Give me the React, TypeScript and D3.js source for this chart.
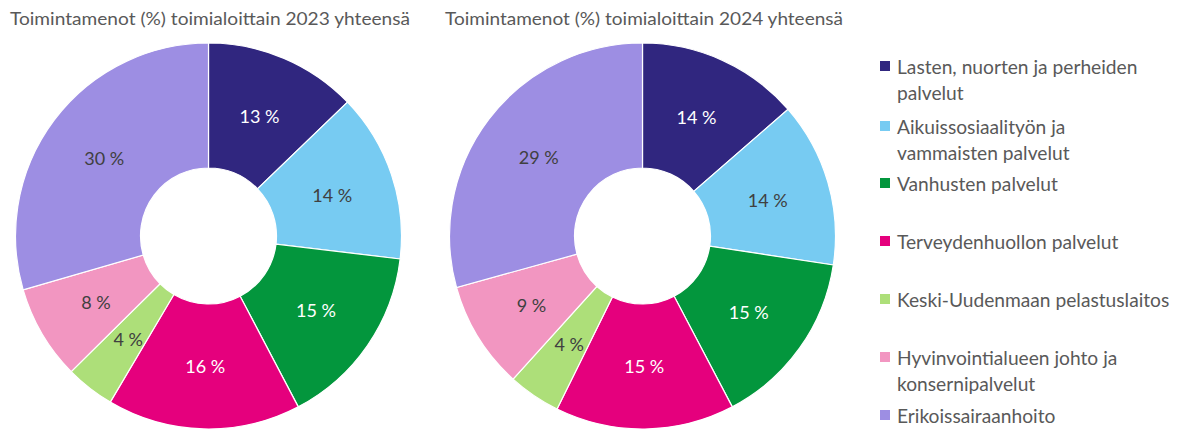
import React from "react";
import * as d3 from "d3";

const categories = [
  "Lasten, nuorten ja perheiden palvelut",
  "Aikuissosiaalityön ja vammaisten palvelut",
  "Vanhusten palvelut",
  "Terveydenhuollon palvelut",
  "Keski-Uudenmaan pelastuslaitos",
  "Hyvinvointialueen johto ja konsernipalvelut",
  "Erikoissairaanhoito",
];
const legendLines = [
  ["Lasten, nuorten ja perheiden", "palvelut"],
  ["Aikuissosiaalityön ja", "vammaisten palvelut"],
  ["Vanhusten palvelut"],
  ["Terveydenhuollon palvelut"],
  ["Keski-Uudenmaan pelastuslaitos"],
  ["Hyvinvointialueen johto ja", "konsernipalvelut"],
  ["Erikoissairaanhoito"],
];
const values2023 = [12.8, 14.1, 15.4, 16.2, 4.1, 7.9, 29.5];
const values2024 = [13.6, 13.8, 14.9, 15.0, 4.4, 9.0, 29.3];
const titles = [
  "Toimintamenot (%) toimialoittain 2023 yhteensä",
  "Toimintamenot (%) toimialoittain 2024 yhteensä",
];
const colors = ["#30267f", "#77cbf2", "#03963d", "#e5007d", "#addf79", "#f296c1", "#9d8ee3"];
const labelColors = ["#ffffff", "#404040", "#ffffff", "#ffffff", "#404040", "#404040", "#404040"];

const FONT = "Lato, 'Open Sans', sans-serif";

function Donut({ values, cx, cy }: { values: number[]; cx: number; cy: number }) {
  const outer = 193;
  const inner = 68;
  const pie = d3.pie<number>().sort(null).value((d) => d);
  const arcs = pie(values);
  const arc = d3.arc<d3.PieArcDatum<number>>().innerRadius(inner).outerRadius(outer);
  return (
    <g transform={`translate(${cx},${cy})`}>
      {arcs.map((a, i) => (
        <path key={i} d={arc(a) || ""} fill={colors[i]} stroke="#ffffff" strokeWidth={1.2} />
      ))}
      {arcs.map((a, i) => {
        const [x, y] = arc.centroid(a);
        return (
          <text
            key={"l" + i}
            x={x}
            y={y}
            textAnchor="middle"
            dominantBaseline="central"
            fontFamily={FONT}
            fontSize={18}
            fill={labelColors[i]}
          >
            {`${Math.round(a.data)} %`}
          </text>
        );
      })}
    </g>
  );
}

export default function App() {
  const legendStarts = [66, 126, 183, 241, 299, 357, 415];
  return (
    <svg
      width={1180}
      height={431}
      style={{ position: "absolute", left: 0, top: 0, background: "#fff" }}
    >
      <text x={10} y={25} fontFamily={FONT} fontSize={18} fill="#595959" textLength={400} lengthAdjust="spacingAndGlyphs">
        {titles[0]}
      </text>
      <text x={445} y={25} fontFamily={FONT} fontSize={18} fill="#595959" textLength={398} lengthAdjust="spacingAndGlyphs">
        {titles[1]}
      </text>
      <Donut values={values2023} cx={208.5} cy={236} />
      <Donut values={values2024} cx={642.5} cy={236} />
      <g>
        {categories.map((c, i) => (
          <g key={c}>
            <rect x={880} y={legendStarts[i] - 5} width={10} height={10} fill={colors[i]} />
            {legendLines[i].map((line, j) => (
              <text
                key={j}
                x={897}
                y={legendStarts[i] + j * 26}
                dominantBaseline="central"
                fontFamily={FONT}
                fontSize={19.2}
                fill="#595959"
              >
                {line}
              </text>
            ))}
          </g>
        ))}
      </g>
    </svg>
  );
}
